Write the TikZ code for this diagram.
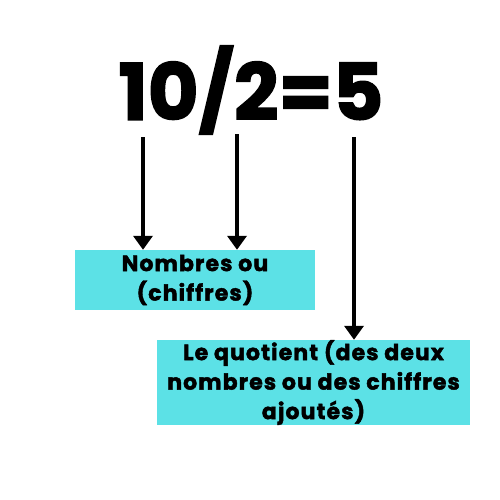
\documentclass[tikz,border=0pt]{standalone}
\usepackage{fontspec}
\setmainfont{Poppins}[BoldFeatures={FakeBold=2}]
\newfontfamily\boxfont{Poppins}[BoldFeatures={FakeBold=2,LetterSpace=5}]
\usetikzlibrary{arrows.meta}
\definecolor{boxcyan}{HTML}{5CE1E6}
\begin{document}
\begin{tikzpicture}[x=1pt,y=-1pt,
  infobox/.style={fill=boxcyan, inner sep=0pt, align=center, font=\boxfont\fontsize{22}{29.5}\selectfont\bfseries},
  arr/.style={line width=4pt, -{Triangle[length=14pt,width=19pt]}, shorten >=0pt}]
\useasboundingbox (0,0) rectangle (500,500);
\node[font=\fontsize{78}{78}\selectfont\bfseries, inner sep=0pt] (title) at (251,90) {10/2=5};
\node[infobox, minimum width=240pt, minimum height=60pt] (b1) at (195,280) {Nombres ou\\(chiffres)};
\node[infobox, minimum width=313pt, minimum height=85pt] (b2) at (313.5,382.5) {Le quotient (des deux\\nombres ou des chiffres\\ajoutés)};
\coordinate (s1) at (143,137);
\coordinate (s2) at (237,134);
\coordinate (s3) at (354,137);
\draw[arr] (s1) -- (s1 |- b1.north);
\draw[arr] (s2) -- (s2 |- b1.north);
\draw[arr] (s3) -- (s3 |- b2.north);
\end{tikzpicture}
\end{document}
